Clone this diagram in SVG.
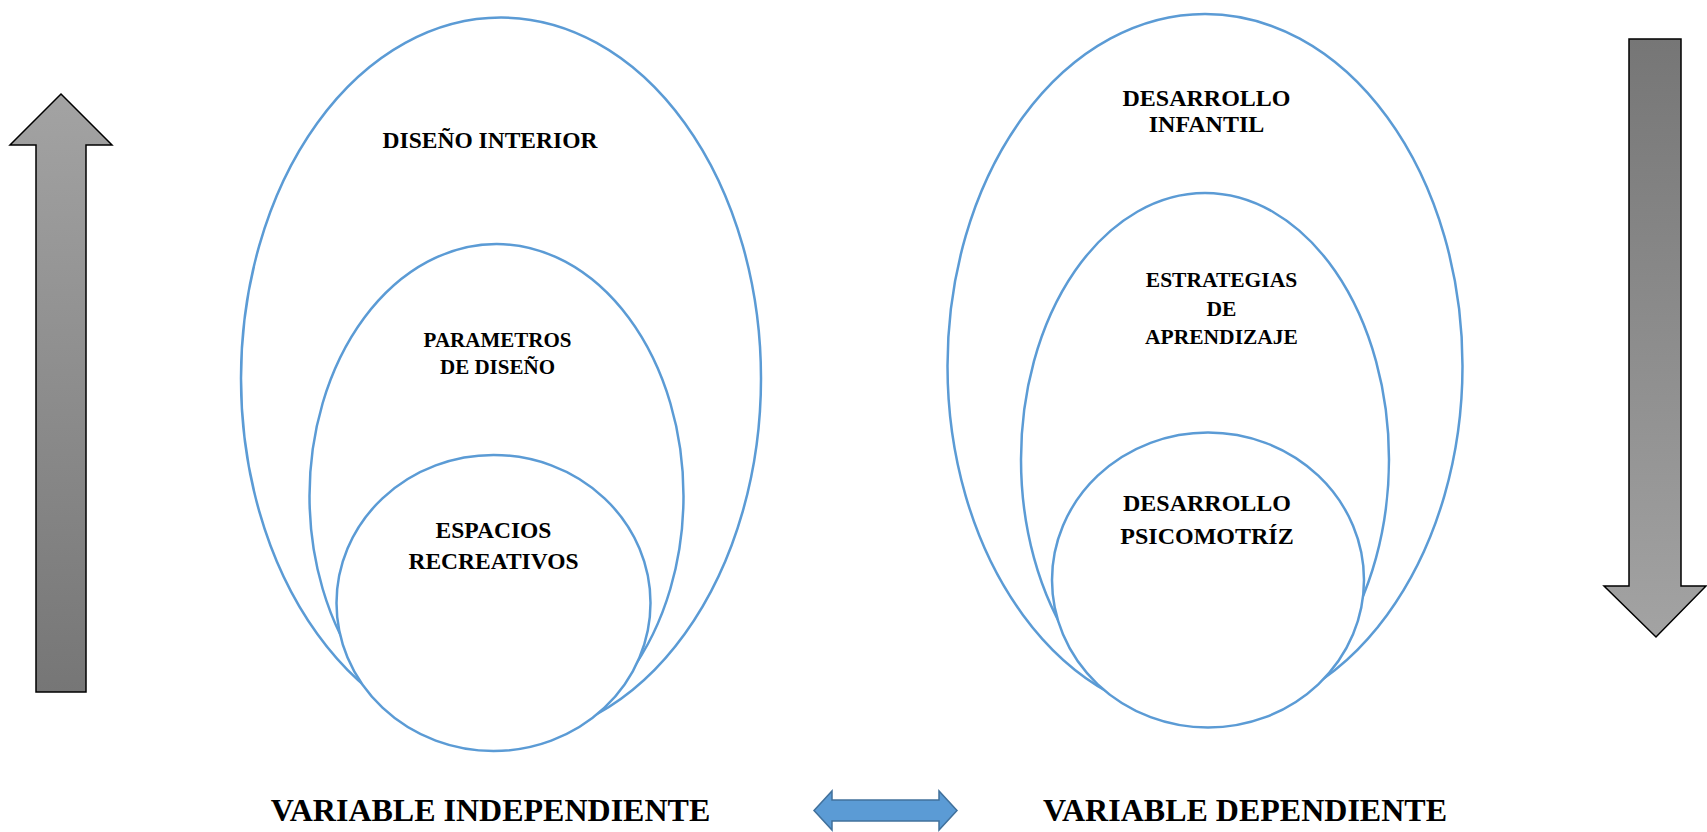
<svg xmlns="http://www.w3.org/2000/svg" width="1707" height="832" viewBox="0 0 1707 832">
<style>
.ell{fill:#ffffff;stroke:#5b9bd5;stroke-width:2.5}
.t{font-family:"Liberation Serif","Times New Roman",serif;font-weight:bold;fill:#000;text-anchor:middle}
</style>
<defs>
<linearGradient id="gUp" x1="0" y1="0" x2="0" y2="1">
<stop offset="0" stop-color="#a3a3a3"/>
<stop offset="1" stop-color="#767676"/>
</linearGradient>
<linearGradient id="gDown" x1="0" y1="0" x2="0" y2="1">
<stop offset="0" stop-color="#767676"/>
<stop offset="1" stop-color="#a3a3a3"/>
</linearGradient>
</defs>
<rect width="1707" height="832" fill="#ffffff"/>
<g id="arrow-up">
<polygon points="61,94 112,145 86,145 86,692 36,692 36,145 10,145" fill="url(#gUp)" stroke="#000" stroke-width="1.5"/>
</g>
<g id="arrow-down">
<polygon points="1629,39 1681,39 1681,586 1706,586 1656,637 1604,586 1629,586" fill="url(#gDown)" stroke="#000" stroke-width="1.5"/>
</g>
<g id="independiente">
<g id="diseno-interior">
<ellipse class="ell" cx="501" cy="378.5" rx="260" ry="361"/>
<text class="t" x="490" y="148" font-size="23.5">DISEÑO INTERIOR</text>
</g>
<g id="parametros">
<ellipse class="ell" cx="496.5" cy="496" rx="187" ry="252"/>
<text class="t" x="497.5" y="347" font-size="21">PARAMETROS</text>
<text class="t" x="497.5" y="374" font-size="21">DE DISEÑO</text>
</g>
<g id="espacios">
<ellipse class="ell" cx="493.5" cy="603" rx="157" ry="148"/>
<text class="t" x="493.5" y="538" font-size="23.5">ESPACIOS</text>
<text class="t" x="493.5" y="569" font-size="23.5">RECREATIVOS</text>
</g>
</g>
<g id="dependiente">
<g id="desarrollo-infantil">
<ellipse class="ell" cx="1205" cy="366" rx="257.5" ry="352"/>
<text class="t" x="1206.5" y="106" font-size="24">DESARROLLO</text>
<text class="t" x="1206.5" y="132" font-size="24">INFANTIL</text>
</g>
<g id="estrategias">
<ellipse class="ell" cx="1205" cy="459.5" rx="184" ry="266.5"/>
<text class="t" x="1221.5" y="287" font-size="21.5">ESTRATEGIAS</text>
<text class="t" x="1221.5" y="315.5" font-size="21.5">DE</text>
<text class="t" x="1221.5" y="344" font-size="21.5">APRENDIZAJE</text>
</g>
<g id="psicomotriz">
<ellipse class="ell" cx="1208" cy="580" rx="156" ry="147.5"/>
<text class="t" x="1207" y="511" font-size="24">DESARROLLO</text>
<text class="t" x="1207" y="544" font-size="24">PSICOMOTRÍZ</text>
</g>
</g>
<g id="connectors">
<polygon points="814,810.5 832,791 832,800 939,800 939,791 957,810.5 939,830 939,821 832,821 832,830" fill="#5b9bd5" stroke="#41719c" stroke-width="1.5"/>
</g>
<g id="labels">
<text class="t" x="490.5" y="821" font-size="32">VARIABLE INDEPENDIENTE</text>
<text class="t" x="1245" y="821" font-size="32">VARIABLE DEPENDIENTE</text>
</g>
</svg>
